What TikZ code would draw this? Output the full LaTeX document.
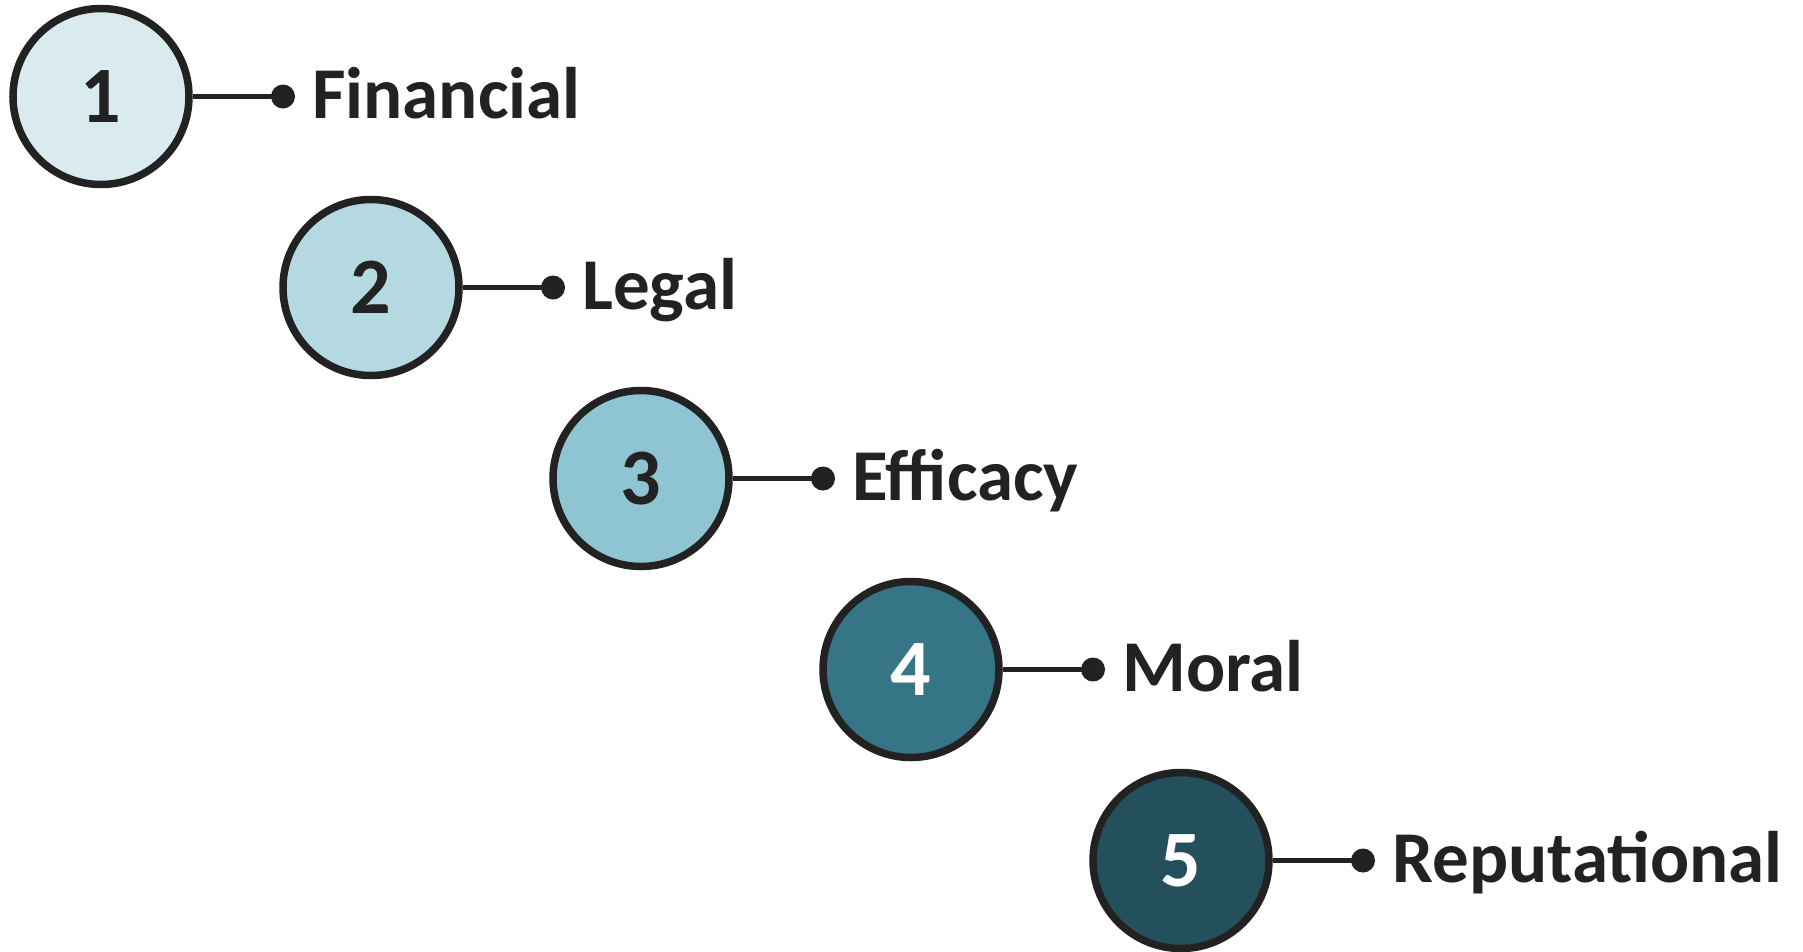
\documentclass[tikz,border=0pt]{standalone}
\usepackage{fontspec}
\setmainfont{Carlito}
\usetikzlibrary{calc}
\definecolor{ink}{HTML}{222222}
\definecolor{cA}{HTML}{DAEBF0}
\definecolor{cB}{HTML}{B5D9E1}
\definecolor{cC}{HTML}{8FC4D3}
\definecolor{cD}{HTML}{357585}
\definecolor{cE}{HTML}{244F5D}
\tikzset{
  numcirc/.style={circle, draw=ink, line width=7.5pt, minimum size=176pt, inner sep=0pt,
    font=\fontsize{80}{90}\selectfont\bfseries},
  dotpt/.style={circle, fill=ink, minimum size=24pt, inner sep=0pt},
  lab/.style={anchor=base west, inner sep=0pt, text=ink, font=\fontsize{73}{85}\selectfont\bfseries},
  conn/.style={draw=ink, line width=5.5pt}
}
\begin{document}
\begin{tikzpicture}[x=1pt,y=-1pt]
\useasboundingbox (0,0) rectangle (1803,951);
\foreach \i/\fc/\tc/\txt [count=\k from 0] in {1/cA/ink/Financial,2/cB/ink/Legal,3/cC/ink/Efficacy,4/cD/white/Moral,5/cE/white/Reputational}{
  \node[numcirc, fill=\fc, text=\tc] (c\i) at (101+270*\k, 96.5+191*\k) {\i};
  \node[dotpt] (d\i) at ($(c\i.center)+(182,0)$) {};
  \draw[conn] (c\i.east) -- (d\i.center);
  \node[lab] (t\i) at ($(c\i.center)+(211,22)$) {\txt};
}
\end{tikzpicture}
\end{document}
